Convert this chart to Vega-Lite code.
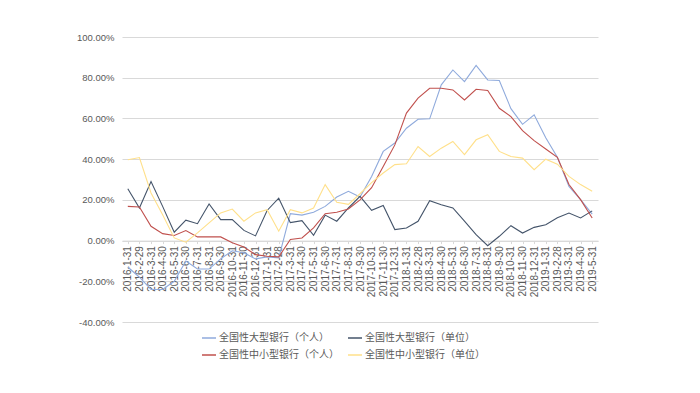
{
  "$schema": "https://vega.github.io/schema/vega-lite/v6.json",
  "width": 476,
  "height": 285,
  "autosize": {"type": "none"},
  "padding": {"left": 122, "top": 37, "right": 102, "bottom": 71},
  "background": "white",
  "config": {"view": {"stroke": null}},
  "data": {"values": [
    {"d":"2016-1-31","s":"全国性大型银行（个人）","v":-0.13},
    {"d":"2016-2-29","s":"全国性大型银行（个人）","v":-0.18},
    {"d":"2016-3-31","s":"全国性大型银行（个人）","v":-0.24},
    {"d":"2016-4-30","s":"全国性大型银行（个人）","v":-0.24},
    {"d":"2016-5-31","s":"全国性大型银行（个人）","v":-0.20},
    {"d":"2016-6-30","s":"全国性大型银行（个人）","v":-0.10},
    {"d":"2016-7-31","s":"全国性大型银行（个人）","v":-0.14},
    {"d":"2016-8-31","s":"全国性大型银行（个人）","v":-0.14},
    {"d":"2016-9-30","s":"全国性大型银行（个人）","v":-0.09},
    {"d":"2016-10-31","s":"全国性大型银行（个人）","v":-0.05},
    {"d":"2016-11-30","s":"全国性大型银行（个人）","v":-0.06},
    {"d":"2016-12-31","s":"全国性大型银行（个人）","v":-0.09},
    {"d":"2017-1-31","s":"全国性大型银行（个人）","v":-0.08},
    {"d":"2017-2-28","s":"全国性大型银行（个人）","v":-0.085},
    {"d":"2017-3-31","s":"全国性大型银行（个人）","v":0.132},
    {"d":"2017-4-30","s":"全国性大型银行（个人）","v":0.125},
    {"d":"2017-5-31","s":"全国性大型银行（个人）","v":0.139},
    {"d":"2017-6-30","s":"全国性大型银行（个人）","v":0.168},
    {"d":"2017-7-31","s":"全国性大型银行（个人）","v":0.214},
    {"d":"2017-8-31","s":"全国性大型银行（个人）","v":0.242},
    {"d":"2017-9-30","s":"全国性大型银行（个人）","v":0.214},
    {"d":"2017-10-31","s":"全国性大型银行（个人）","v":0.315},
    {"d":"2017-11-30","s":"全国性大型银行（个人）","v":0.438},
    {"d":"2017-12-31","s":"全国性大型银行（个人）","v":0.479},
    {"d":"2018-1-31","s":"全国性大型银行（个人）","v":0.552},
    {"d":"2018-2-28","s":"全国性大型银行（个人）","v":0.596},
    {"d":"2018-3-31","s":"全国性大型银行（个人）","v":0.598},
    {"d":"2018-4-30","s":"全国性大型银行（个人）","v":0.765},
    {"d":"2018-5-31","s":"全国性大型银行（个人）","v":0.838},
    {"d":"2018-6-30","s":"全国性大型银行（个人）","v":0.781},
    {"d":"2018-7-31","s":"全国性大型银行（个人）","v":0.86},
    {"d":"2018-8-31","s":"全国性大型银行（个人）","v":0.789},
    {"d":"2018-9-30","s":"全国性大型银行（个人）","v":0.786},
    {"d":"2018-10-31","s":"全国性大型银行（个人）","v":0.648},
    {"d":"2018-11-30","s":"全国性大型银行（个人）","v":0.571},
    {"d":"2018-12-31","s":"全国性大型银行（个人）","v":0.618},
    {"d":"2019-1-31","s":"全国性大型银行（个人）","v":0.505},
    {"d":"2019-2-28","s":"全国性大型银行（个人）","v":0.409},
    {"d":"2019-3-31","s":"全国性大型银行（个人）","v":0.266},
    {"d":"2019-4-30","s":"全国性大型银行（个人）","v":0.201},
    {"d":"2019-5-31","s":"全国性大型银行（个人）","v":0.13},

    {"d":"2016-1-31","s":"全国性大型银行（单位）","v":0.255},
    {"d":"2016-2-29","s":"全国性大型银行（单位）","v":0.16},
    {"d":"2016-3-31","s":"全国性大型银行（单位）","v":0.29},
    {"d":"2016-4-30","s":"全国性大型银行（单位）","v":0.168},
    {"d":"2016-5-31","s":"全国性大型银行（单位）","v":0.041},
    {"d":"2016-6-30","s":"全国性大型银行（单位）","v":0.10},
    {"d":"2016-7-31","s":"全国性大型银行（单位）","v":0.083},
    {"d":"2016-8-31","s":"全国性大型银行（单位）","v":0.18},
    {"d":"2016-9-30","s":"全国性大型银行（单位）","v":0.103},
    {"d":"2016-10-31","s":"全国性大型银行（单位）","v":0.103},
    {"d":"2016-11-30","s":"全国性大型银行（单位）","v":0.05},
    {"d":"2016-12-31","s":"全国性大型银行（单位）","v":0.023},
    {"d":"2017-1-31","s":"全国性大型银行（单位）","v":0.148},
    {"d":"2017-2-28","s":"全国性大型银行（单位）","v":0.208},
    {"d":"2017-3-31","s":"全国性大型银行（单位）","v":0.088},
    {"d":"2017-4-30","s":"全国性大型银行（单位）","v":0.098},
    {"d":"2017-5-31","s":"全国性大型银行（单位）","v":0.026},
    {"d":"2017-6-30","s":"全国性大型银行（单位）","v":0.125},
    {"d":"2017-7-31","s":"全国性大型银行（单位）","v":0.095},
    {"d":"2017-8-31","s":"全国性大型银行（单位）","v":0.16},
    {"d":"2017-9-30","s":"全国性大型银行（单位）","v":0.217},
    {"d":"2017-10-31","s":"全国性大型银行（单位）","v":0.149},
    {"d":"2017-11-30","s":"全国性大型银行（单位）","v":0.172},
    {"d":"2017-12-31","s":"全国性大型银行（单位）","v":0.054},
    {"d":"2018-1-31","s":"全国性大型银行（单位）","v":0.062},
    {"d":"2018-2-28","s":"全国性大型银行（单位）","v":0.095},
    {"d":"2018-3-31","s":"全国性大型银行（单位）","v":0.196},
    {"d":"2018-4-30","s":"全国性大型银行（单位）","v":0.176},
    {"d":"2018-5-31","s":"全国性大型银行（单位）","v":0.16},
    {"d":"2018-6-30","s":"全国性大型银行（单位）","v":0.095},
    {"d":"2018-7-31","s":"全国性大型银行（单位）","v":0.029},
    {"d":"2018-8-31","s":"全国性大型银行（单位）","v":-0.025},
    {"d":"2018-9-30","s":"全国性大型银行（单位）","v":0.021},
    {"d":"2018-10-31","s":"全国性大型银行（单位）","v":0.073},
    {"d":"2018-11-30","s":"全国性大型银行（单位）","v":0.037},
    {"d":"2018-12-31","s":"全国性大型银行（单位）","v":0.065},
    {"d":"2019-1-31","s":"全国性大型银行（单位）","v":0.078},
    {"d":"2019-2-28","s":"全国性大型银行（单位）","v":0.112},
    {"d":"2019-3-31","s":"全国性大型银行（单位）","v":0.135},
    {"d":"2019-4-30","s":"全国性大型银行（单位）","v":0.111},
    {"d":"2019-5-31","s":"全国性大型银行（单位）","v":0.146},

    {"d":"2016-1-31","s":"全国性中小型银行（个人）","v":0.168},
    {"d":"2016-2-29","s":"全国性中小型银行（个人）","v":0.165},
    {"d":"2016-3-31","s":"全国性中小型银行（个人）","v":0.07},
    {"d":"2016-4-30","s":"全国性中小型银行（个人）","v":0.034},
    {"d":"2016-5-31","s":"全国性中小型银行（个人）","v":0.025},
    {"d":"2016-6-30","s":"全国性中小型银行（个人）","v":0.049},
    {"d":"2016-7-31","s":"全国性中小型银行（个人）","v":0.018},
    {"d":"2016-8-31","s":"全国性中小型银行（个人）","v":0.018},
    {"d":"2016-9-30","s":"全国性中小型银行（个人）","v":0.018},
    {"d":"2016-10-31","s":"全国性中小型银行（个人）","v":-0.011},
    {"d":"2016-11-30","s":"全国性中小型银行（个人）","v":-0.032},
    {"d":"2016-12-31","s":"全国性中小型银行（个人）","v":-0.069},
    {"d":"2017-1-31","s":"全国性中小型银行（个人）","v":-0.077},
    {"d":"2017-2-28","s":"全国性中小型银行（个人）","v":-0.08},
    {"d":"2017-3-31","s":"全国性中小型银行（个人）","v":0.005},
    {"d":"2017-4-30","s":"全国性中小型银行（个人）","v":0.013},
    {"d":"2017-5-31","s":"全国性中小型银行（个人）","v":0.062},
    {"d":"2017-6-30","s":"全国性中小型银行（个人）","v":0.132},
    {"d":"2017-7-31","s":"全国性中小型银行（个人）","v":0.139},
    {"d":"2017-8-31","s":"全国性中小型银行（个人）","v":0.155},
    {"d":"2017-9-30","s":"全国性中小型银行（个人）","v":0.20},
    {"d":"2017-10-31","s":"全国性中小型银行（个人）","v":0.26},
    {"d":"2017-11-30","s":"全国性中小型银行（个人）","v":0.364},
    {"d":"2017-12-31","s":"全国性中小型银行（个人）","v":0.47},
    {"d":"2018-1-31","s":"全国性中小型银行（个人）","v":0.626},
    {"d":"2018-2-28","s":"全国性中小型银行（个人）","v":0.70},
    {"d":"2018-3-31","s":"全国性中小型银行（个人）","v":0.748},
    {"d":"2018-4-30","s":"全国性中小型银行（个人）","v":0.748},
    {"d":"2018-5-31","s":"全国性中小型银行（个人）","v":0.74},
    {"d":"2018-6-30","s":"全国性中小型银行（个人）","v":0.691},
    {"d":"2018-7-31","s":"全国性中小型银行（个人）","v":0.743},
    {"d":"2018-8-31","s":"全国性中小型银行（个人）","v":0.737},
    {"d":"2018-9-30","s":"全国性中小型银行（个人）","v":0.65},
    {"d":"2018-10-31","s":"全国性中小型银行（个人）","v":0.609},
    {"d":"2018-11-30","s":"全国性中小型银行（个人）","v":0.54},
    {"d":"2018-12-31","s":"全国性中小型银行（个人）","v":0.491},
    {"d":"2019-1-31","s":"全国性中小型银行（个人）","v":0.45},
    {"d":"2019-2-28","s":"全国性中小型银行（个人）","v":0.409},
    {"d":"2019-3-31","s":"全国性中小型银行（个人）","v":0.275},
    {"d":"2019-4-30","s":"全国性中小型银行（个人）","v":0.201},
    {"d":"2019-5-31","s":"全国性中小型银行（个人）","v":0.111},

    {"d":"2016-1-31","s":"全国性中小型银行（单位）","v":0.397},
    {"d":"2016-2-29","s":"全国性中小型银行（单位）","v":0.408},
    {"d":"2016-3-31","s":"全国性中小型银行（单位）","v":0.234},
    {"d":"2016-4-30","s":"全国性中小型银行（单位）","v":0.127},
    {"d":"2016-5-31","s":"全国性中小型银行（单位）","v":0.013},
    {"d":"2016-6-30","s":"全国性中小型银行（单位）","v":-0.008},
    {"d":"2016-7-31","s":"全国性中小型银行（单位）","v":0.038},
    {"d":"2016-8-31","s":"全国性中小型银行（单位）","v":0.087},
    {"d":"2016-9-30","s":"全国性中小型银行（单位）","v":0.136},
    {"d":"2016-10-31","s":"全国性中小型银行（单位）","v":0.155},
    {"d":"2016-11-30","s":"全国性中小型银行（单位）","v":0.095},
    {"d":"2016-12-31","s":"全国性中小型银行（单位）","v":0.136},
    {"d":"2017-1-31","s":"全国性中小型银行（单位）","v":0.152},
    {"d":"2017-2-28","s":"全国性中小型银行（单位）","v":0.046},
    {"d":"2017-3-31","s":"全国性中小型银行（单位）","v":0.152},
    {"d":"2017-4-30","s":"全国性中小型银行（单位）","v":0.136},
    {"d":"2017-5-31","s":"全国性中小型银行（单位）","v":0.16},
    {"d":"2017-6-30","s":"全国性中小型银行（单位）","v":0.275},
    {"d":"2017-7-31","s":"全国性中小型银行（单位）","v":0.188},
    {"d":"2017-8-31","s":"全国性中小型银行（单位）","v":0.178},
    {"d":"2017-9-30","s":"全国性中小型银行（单位）","v":0.23},
    {"d":"2017-10-31","s":"全国性中小型银行（单位）","v":0.285},
    {"d":"2017-11-30","s":"全国性中小型银行（单位）","v":0.332},
    {"d":"2017-12-31","s":"全国性中小型银行（单位）","v":0.373},
    {"d":"2018-1-31","s":"全国性中小型银行（单位）","v":0.377},
    {"d":"2018-2-28","s":"全国性中小型银行（单位）","v":0.462},
    {"d":"2018-3-31","s":"全国性中小型银行（单位）","v":0.413},
    {"d":"2018-4-30","s":"全国性中小型银行（单位）","v":0.454},
    {"d":"2018-5-31","s":"全国性中小型银行（单位）","v":0.487},
    {"d":"2018-6-30","s":"全国性中小型银行（单位）","v":0.422},
    {"d":"2018-7-31","s":"全国性中小型银行（单位）","v":0.495},
    {"d":"2018-8-31","s":"全国性中小型银行（单位）","v":0.52},
    {"d":"2018-9-30","s":"全国性中小型银行（单位）","v":0.438},
    {"d":"2018-10-31","s":"全国性中小型银行（单位）","v":0.413},
    {"d":"2018-11-30","s":"全国性中小型银行（单位）","v":0.405},
    {"d":"2018-12-31","s":"全国性中小型银行（单位）","v":0.348},
    {"d":"2019-1-31","s":"全国性中小型银行（单位）","v":0.40},
    {"d":"2019-2-28","s":"全国性中小型银行（单位）","v":0.375},
    {"d":"2019-3-31","s":"全国性中小型银行（单位）","v":0.315},
    {"d":"2019-4-30","s":"全国性中小型银行（单位）","v":0.275},
    {"d":"2019-5-31","s":"全国性中小型银行（单位）","v":0.242}
  ]},
  "mark": {"type": "line", "strokeWidth": 1.1},
  "encoding": {
    "x": {
      "field": "d", "type": "ordinal", "sort": null,
      "scale": {"type": "point", "padding": 0.5},
      "axis": {
        "title": null, "labelAngle": -90, "labelFontSize": 10, "labelFont": "Liberation Sans",
        "labelColor": "#595959", "offset": -81.4, "domainColor": "#d9d9d9",
        "ticks": true, "tickColor": "#d9d9d9", "tickSize": 3, "labelPadding": 2,
        "grid": false, "labelOverlap": false
      }
    },
    "y": {
      "field": "v", "type": "quantitative",
      "scale": {"domain": [-0.4, 1.0], "nice": false, "zero": false},
      "axis": {
        "title": null, "values": [-0.4, -0.2, 0, 0.2, 0.4, 0.6, 0.8, 1.0],
        "format": ".2%", "labelExpr": "replace(datum.label, '−', '-')",
        "domain": false, "ticks": false, "gridColor": "#d9d9d9",
        "labelColor": "#595959", "labelFontSize": 9.5, "labelFont": "Liberation Sans", "labelPadding": 8
      }
    },
    "color": {
      "field": "s", "type": "nominal",
      "scale": {
        "domain": ["全国性大型银行（个人）", "全国性中小型银行（个人）", "全国性大型银行（单位）", "全国性中小型银行（单位）"],
        "range": ["#8faadc", "#c0504d", "#44546a", "#ffe08a"]
      },
      "legend": {
        "orient": "none", "legendX": 79, "legendY": 293, "columns": 2, "title": null,
        "symbolType": "stroke", "symbolSize": 196, "symbolStrokeWidth": 1.5,
        "labelFont": "Noto Sans CJK SC", "labelFontSize": 10, "labelColor": "#595959",
        "labelOffset": 2, "columnPadding": 6, "rowPadding": 4, "labelLimit": 200
      }
    }
  }
}
